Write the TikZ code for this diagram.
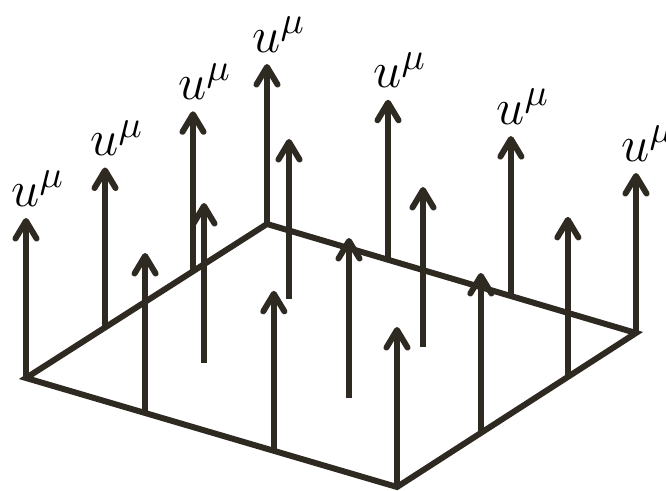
\documentclass[tikz,border=0pt]{standalone}
\usepackage{amsmath}
\usepackage{tikz}
\usetikzlibrary{arrows.meta,calc}
\definecolor{inkdark}{RGB}{46,42,34}
\tikzset{
  sheet/.style={draw=inkdark, line width=1.7pt},
  flowvec/.style={draw=inkdark, line width=1.7pt,
    -{Straight Barb[length=5pt, width=6pt, round]}},
  ulabel/.style={anchor=south, inner sep=0pt, xshift=0.12cm, yshift=0.09cm,
    font=\fontsize{15.5}{18}\selectfont},
}

\begin{document}
\begin{tikzpicture}[x=0.01cm, y=-0.01cm]
  \useasboundingbox (0,0) rectangle (666,491);

  % corners of the sheet
  \coordinate (L) at (26,378);
  \coordinate (T) at (267,224);
  \coordinate (R) at (636,333);
  \coordinate (B) at (397,487);
  \draw[sheet] (L) -- (T) -- (R) -- (B) -- cycle;

  % points on the edges
  \coordinate (lt1) at ($(L)!0.328!(T)$);
  \coordinate (lt2) at ($(L)!0.693!(T)$);
  \coordinate (tr1) at ($(T)!0.328!(R)$);
  \coordinate (tr2) at ($(T)!0.661!(R)$);
  \coordinate (lb1) at ($(L)!0.321!(B)$);
  \coordinate (lb2) at ($(L)!0.668!(B)$);
  \coordinate (br1) at ($(B)!0.351!(R)$);
  \coordinate (br2) at ($(B)!0.715!(R)$);

  % points inside
  \coordinate (in1) at (204,363);
  \coordinate (in2) at (289,299);
  \coordinate (in3) at (349,398);
  \coordinate (in4) at (423,347);

  \foreach \p in {lb1,in1,in2,lb2,in3,in4,B,br1,br2}
    \draw[flowvec] (\p) -- ++(0,-160);
  \foreach \p in {L,lt1,lt2,T,tr1,tr2,R}
    \draw[flowvec] (\p) -- ++(0,-160) node[ulabel] {$u^\mu$};
\end{tikzpicture}
\end{document}
